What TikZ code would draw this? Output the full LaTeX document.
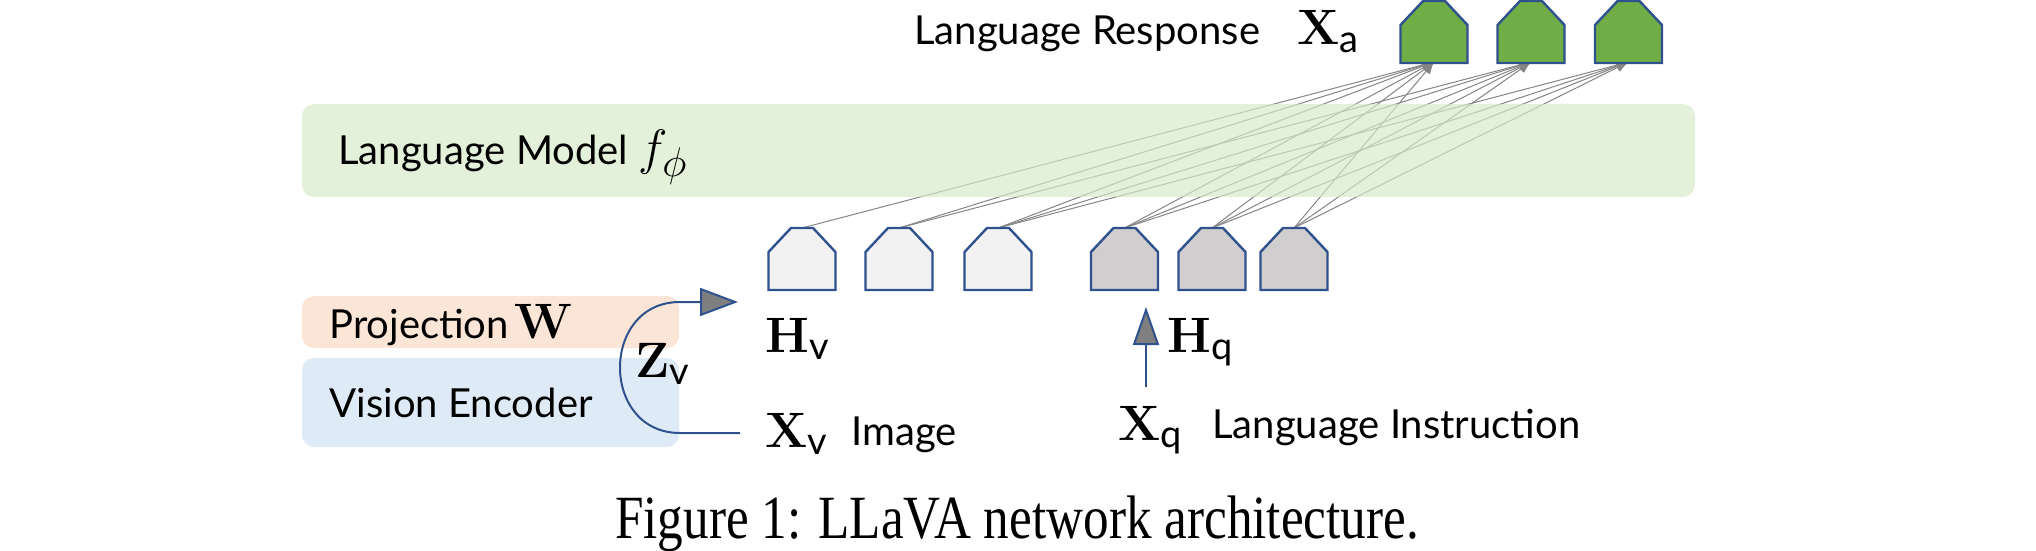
\documentclass[tikz,border=0pt]{standalone}
\usepackage[no-math]{fontspec}
\usepackage{graphicx}
\setmainfont{Liberation Serif}
\setsansfont{Lato}
\usetikzlibrary{arrows.meta}
\definecolor{tokblue}{HTML}{2F528F}
\definecolor{tokgreen}{HTML}{70AD47}
\definecolor{toklight}{HTML}{F2F2F2}
\definecolor{tokgray}{HTML}{D0CECE}
\definecolor{lmgreen}{HTML}{D6E9C8}
\definecolor{projpeach}{HTML}{FBE5D6}
\definecolor{visblue}{HTML}{DEEBF7}
\definecolor{headgray}{HTML}{7F7F7F}
\definecolor{linkgray}{HTML}{858585}
\newcommand\ssub[1]{\hbox{\sffamily\fontsize{19}{19}\selectfont #1}}
\newcommand\tokn[4]{%
  \draw[tokline, fill=#4] (#2-33.5,#3+62) -- (#2-33.5,#3+24) -- (#2-11,#3) -- (#2+11,#3) -- (#2+33.5,#3+24) -- (#2+33.5,#3+62) -- cycle;
  \coordinate (#1t) at (#2,#3);
  \coordinate (#1b) at (#2,#3+62);}
\tikzset{
  tokline/.style={draw=tokblue, line width=1.2pt, line join=miter},
  link/.style={draw=linkgray, line width=0.5pt, -{Latex[length=6pt,width=5pt]}},
  label/.style={inner sep=0pt, anchor=base west, font=\sffamily\fontsize{20}{22}\selectfont},
  mathlbl/.style={inner sep=0pt, anchor=base west, font=\fontsize{25}{28}\selectfont},
  bluecurve/.style={draw=tokblue, line width=1pt},
  panel/.style={rounded corners=6pt, draw=none}
}
\begin{document}
\begin{tikzpicture}[x=0.5pt,y=-0.5pt]
\useasboundingbox (0,0) rectangle (2036,551);
\coordinate (o1b) at (1434,62);
\coordinate (o2b) at (1531,62);
\coordinate (o3b) at (1628.5,62);
\coordinate (v1t) at (802,228);
\coordinate (v2t) at (899,228);
\coordinate (v3t) at (998,228);
\coordinate (q1t) at (1124.5,228);
\coordinate (q2t) at (1212,228);
\coordinate (q3t) at (1294,228);
% links
\foreach \s in {v1,v2,v3,q1,q2,q3} \draw[link] (\s t) -- (o1b);
\foreach \s in {v2,v3,q1,q2,q3} \draw[link] (\s t) -- (o2b);
\foreach \s in {v3,q1,q2,q3} \draw[link] (\s t) -- (o3b);
% language model panel
\fill[panel, lmgreen, fill opacity=0.68] (302,104) rectangle (1695,197);
\node[label] (lm) at (338,165) {Language Model};
\node[mathlbl, font=\fontsize{29}{32}\selectfont] (fphi) at (638,165) {$f_{\phi}$};
% projection and vision encoder
\fill[panel, projpeach] (302,296) rectangle (679,348);
\fill[panel, visblue] (302,358) rectangle (679,447);
\node[label] (proj) at (329,338) {Projection};
\node[mathlbl, font=\fontsize{27}{30}\selectfont] (W) at (514,338) {$\mathbf{W}$};
\node[label] (venc) at (329,417) {Vision Encoder};
% tokens
\tokn{o1}{1434}{1}{tokgreen}
\tokn{o2}{1531}{1}{tokgreen}
\tokn{o3}{1628.5}{1}{tokgreen}
\tokn{v1}{802}{228}{toklight}
\tokn{v2}{899}{228}{toklight}
\tokn{v3}{998}{228}{toklight}
\tokn{q1}{1124.5}{228}{tokgray}
\tokn{q2}{1212}{228}{tokgray}
\tokn{q3}{1294}{228}{tokgray}
% top labels
\node[label] (resp) at (914,45) {Language Response};
\node[mathlbl] (Xa) at (1297,45) {$\mathbf{X}_{\ssub{a}}$};
% vision path
\node[mathlbl] (Hv) at (765,352) {$\mathbf{H}_{\ssub{v}}$};
\node[mathlbl] (Xv) at (765,447) {$\mathbf{X}_{\ssub{v}}$};
\node[label] (img) at (851,445) {Image};
\node[mathlbl] (Zv) at (635,377) {$\mathbf{Z}_{\ssub{v}}$};
\coordinate (zs) at (740,433);
\coordinate (z1) at (680,433);
\coordinate (z2) at (600,433);
\coordinate (z3) at (600,302);
\coordinate (z4) at (680,302);
\coordinate (ze) at (738,302);
\draw[bluecurve, -{Triangle[length=19pt,width=14pt,fill=headgray]}] (zs) -- (z1) .. controls (z2) and (z3) .. (z4) -- (ze);
% instruction path
\node[mathlbl] (Xq) at (1118,440) {$\mathbf{X}_{\ssub{q}}$};
\node[mathlbl] (Hq) at (1167,352) {$\mathbf{H}_{\ssub{q}}$};
\node[label] (instr) at (1212,438) {Language Instruction};
\coordinate (qs) at (1146,387);
\coordinate (qe) at (1146,307);
\draw[bluecurve, -{Triangle[length=19pt,width=13pt,fill=headgray]}] (qs) -- (qe);
% caption
\node[inner sep=0pt, anchor=base, font=\rmfamily\fontsize{25.6}{29}\selectfont] (cap) at (1017,538) {\scalebox{1}[1.2]{Figure 1: LLaVA network architecture.}};
\end{tikzpicture}
\end{document}
